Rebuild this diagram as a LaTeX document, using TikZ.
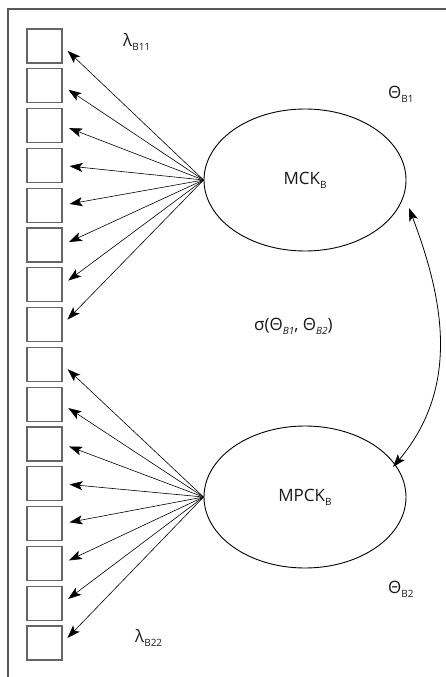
\documentclass[tikz,border=0pt]{standalone}
\usepackage{fontspec}
\setmainfont{Open Sans}
\usetikzlibrary{arrows.meta,shapes.geometric}
\newcommand\sbs[1]{\raisebox{-4pt}{\fontsize{10}{10}\selectfont #1}}
\newcommand\sbi[1]{\raisebox{-4pt}{\fontsize{10}{10}\selectfont\itshape #1}}
\begin{document}
\begin{tikzpicture}[x=1pt,y=-1pt,
  obs/.style={draw=black!60, line width=1.1pt, minimum width=35pt, minimum height=34pt, inner sep=0pt},
  lat/.style={draw, ellipse, line width=0.9pt, minimum width=202pt, minimum height=142pt, inner sep=0pt, font=\fontsize{17}{17}\selectfont, text=black!90},
  load/.style={-{Stealth[length=13pt,width=9pt,inset=3pt]}, line width=0.6pt, shorten >=7pt},
  cov/.style={{Stealth[length=13pt,width=9pt,inset=3pt]}-{Stealth[length=13pt,width=9pt,inset=3pt]}, line width=0.8pt},
  lbl/.style={inner sep=0pt, font=\fontsize{17}{17}\selectfont, text=black!90}]
\useasboundingbox (0,0) rectangle (446,677);
\draw[black!65, line width=1.3pt] (8,677) -- (8,9) -- (446,9);
\foreach \i in {1,...,16} {
  \node[obs] (b\i) at (44.5, {46+39.8*(\i-1)}) {};
}
\node[lat] (e1) at (305,180) {MCK\sbs{B}};
\node[lat] (e2) at (305,497) {MPCK\sbs{B}};
\foreach \i in {1,...,8} {
  \draw[load] (e1.west) -- (b\i.east);
}
\foreach \i in {9,...,16} {
  \draw[load] (e2.west) -- (b\i.east);
}
\coordinate (c1) at (409,208);
\coordinate (c2) at (393,467);
\draw[cov] (c1) .. controls (442,295) and (462,385) .. (c2);
\node[lbl, anchor=base west] (l1) at (123,47) {λ\sbs{B11}};
\node[lbl, anchor=base west] (l2) at (135,642) {λ\sbs{B22}};
\node[lbl, anchor=base west] (t1) at (388,98) {Θ\sbs{B1}};
\node[lbl, anchor=base west] (t2) at (388,593) {Θ\sbs{B2}};
\node[lbl, anchor=base west] (s) at (254,330) {σ(Θ\sbi{B1}, Θ\sbi{B2})};
\end{tikzpicture}
\end{document}
